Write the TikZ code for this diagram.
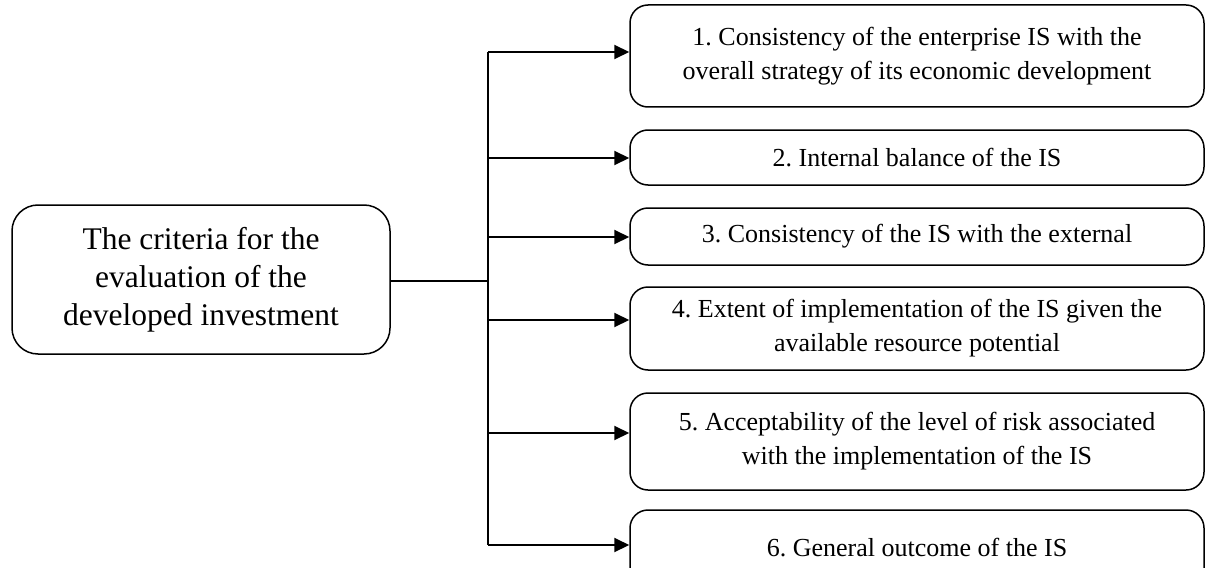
\documentclass[tikz,border=0pt]{standalone}
\usepackage{fontspec}
\setmainfont{Liberation Serif}
\usetikzlibrary{arrows.meta}
\frenchspacing
\begin{document}
\begin{tikzpicture}[x=1pt,y=1pt,
  rbox/.style={draw, line width=1.5pt, rounded corners=18pt, align=center,
    minimum width=574pt, inner sep=0pt, font=\fontsize{26}{34}\selectfont},
  mainbox/.style={draw, line width=1.5pt, rounded corners=26pt, align=center,
    minimum width=378pt, minimum height=149pt, inner sep=0pt, font=\fontsize{31.5}{38}\selectfont},
  conn/.style={line width=2pt},
  arr/.style={line width=2pt, -{Triangle[length=15pt,width=14pt]}}]
\useasboundingbox (0,0) rectangle (1206,-567);
\clip (0,0) rectangle (1206,-567);
\node[mainbox] (m) at (201,-279.5) {The criteria for the\\evaluation of the\\developed investment};
\node[rbox, minimum height=102pt] (b1) at (917,-56) {1. Consistency of the enterprise IS with the\\overall strategy of its economic development};
\node[rbox, minimum height=55pt] (b2) at (917,-157.5) {2. Internal balance of the IS};
\node[rbox, minimum height=57pt] (b3) at (917,-236.5) {3. Consistency of the IS with the external};
\node[rbox, minimum height=83pt] (b4) at (917,-328.5) {4. Extent of implementation of the IS given the\\available resource potential};
\node[rbox, minimum height=97pt] (b5) at (917,-441.5) {5. Acceptability of the level of risk associated\\with the implementation of the IS};
\node[rbox, minimum height=76pt] (b6) at (917,-548) {6. General outcome of the IS};
\coordinate (j) at (488,-281);
\coordinate (t1) at (488,-52);
\coordinate (t2) at (488,-158);
\coordinate (t3) at (488,-237);
\coordinate (t4) at (488,-320);
\coordinate (t5) at (488,-433);
\coordinate (t6) at (488,-545);
\draw[conn] (m.east |- j) -- (j);
\draw[conn] (t1) -- (t6);
\draw[arr] (t1) -- (t1 -| b1.west);
\draw[arr] (t2) -- (t2 -| b2.west);
\draw[arr] (t3) -- (t3 -| b3.west);
\draw[arr] (t4) -- (t4 -| b4.west);
\draw[arr] (t5) -- (t5 -| b5.west);
\draw[arr] (t6) -- (t6 -| b6.west);
\end{tikzpicture}
\end{document}
